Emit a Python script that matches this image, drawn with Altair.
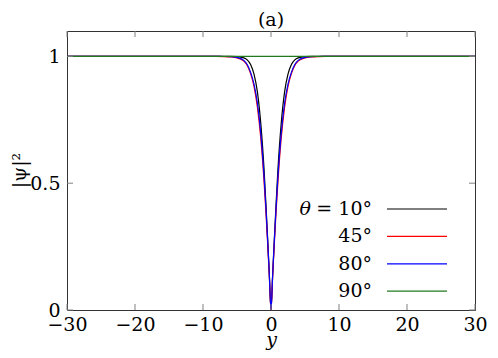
import altair as alt
import pandas as pd

# ---- data ----
y_pos = [-30, -10, -8, -7, -6, -5, -4, -3.5, -3, -2.5, -2, -1.5, -1, -0.75, -0.5, -0.25, 0,
         0.25, 0.5, 0.75, 1, 1.5, 2, 2.5, 3, 3.5, 4, 5, 6, 7, 8, 10, 30]
psi_10 = [1, 1, 1, 1, 0.9999, 0.999, 0.994, 0.986, 0.968, 0.93, 0.86, 0.735, 0.545, 0.42, 0.285, 0.145, 0,
          0.145, 0.285, 0.42, 0.545, 0.735, 0.86, 0.93, 0.968, 0.986, 0.994, 0.999, 0.9999, 1, 1, 1, 1]
psi_45 = [1, 1, 0.9998, 0.9993, 0.998, 0.994, 0.981, 0.964, 0.932, 0.882, 0.800, 0.676, 0.497, 0.388, 0.266, 0.135, 0,
          0.135, 0.266, 0.388, 0.497, 0.676, 0.800, 0.882, 0.932, 0.964, 0.981, 0.994, 0.998, 0.9993, 0.9998, 1, 1]
psi_80 = [1, 1, 0.9998, 0.9995, 0.999, 0.996, 0.984, 0.968, 0.937, 0.891, 0.816, 0.695, 0.516, 0.404, 0.278, 0.142, 0,
          0.142, 0.278, 0.404, 0.516, 0.695, 0.816, 0.891, 0.937, 0.968, 0.984, 0.996, 0.999, 0.9995, 0.9998, 1, 1]
psi_90 = [1, 1, 1, 1, 1, 1, 1, 1, 1, 1, 1, 1, 1, 1, 1, 1, 1,
          1, 1, 1, 1, 1, 1, 1, 1, 1, 1, 1, 1, 1, 1, 1, 1]
series_cols = ["p10", "p45", "p80", "p90"]
series_colors = ["#000000", "#ff0000", "#0000ff", "#1f7a1f"]
legend_labels = ["= 10°", "45°", "80°", "90°"]
x_ticks = [-30, -20, -10, 0, 10, 20, 30]
y_ticks = [0, 0.5, 1]

df = pd.DataFrame({"y": y_pos, "p10": psi_10, "p45": psi_45, "p80": psi_80, "p90": psi_90})
long_df = df.melt(id_vars="y", value_vars=series_cols, var_name="series", value_name="psi")

W, H = 408, 279
FONT = "DejaVu Serif"
FS = 19
xs = alt.Scale(domain=[-30, 30], nice=False, zero=False)
ys = alt.Scale(domain=[0, 1.1], nice=False)

x_axis = alt.Axis(values=x_ticks, format="d", ticks=False, domain=False, grid=False,
                  labelFont=FONT, labelFontSize=FS, labelColor="black", labelPadding=5,
                  labelFlush=False,
                  title="y", titleFont=FONT, titleFontSize=FS, titleFontStyle="italic",
                  titleFontWeight="normal", titleColor="black", titleX=W / 2, titleY=35,
                  titleAlign="center", titleBaseline="alphabetic")
y_axis = alt.Axis(values=y_ticks, format=".1~f", ticks=False, domain=False, grid=False,
                  labelFont=FONT, labelFontSize=FS, labelColor="black", labelPadding=7,
                  labelFlush=False,
                  title="|ψ|²", titleFont=FONT, titleFontSize=FS, titleFontWeight="normal",
                  titleColor="black", titleAngle=270, titleX=-48, titleY=139,
                  titleAlign="center", titleBaseline="middle")

# all curves in one layer, drawn in series order (black, red, blue, green)
curves = alt.Chart(long_df).mark_line(strokeWidth=1.2, interpolate="monotone", clip=True).encode(
    x=alt.X("y:Q", scale=xs, axis=x_axis),
    y=alt.Y("psi:Q", scale=ys, axis=y_axis),
    color=alt.Color("series:N", scale=alt.Scale(domain=series_cols, range=series_colors), legend=None),
    order=alt.Order("y:Q"),
)

layers = [curves]

tick_color = "#808080"
xt = pd.DataFrame({"t": x_ticks})
yt = pd.DataFrame({"t": y_ticks})
layers.append(alt.Chart(xt).mark_rule(color=tick_color, strokeWidth=1).encode(
    x=alt.X("t:Q", scale=xs, axis=x_axis), y=alt.value(H), y2=alt.value(H - 6)))
layers.append(alt.Chart(xt).mark_rule(color=tick_color, strokeWidth=1).encode(
    x=alt.X("t:Q", scale=xs, axis=x_axis), y=alt.value(0), y2=alt.value(6)))
layers.append(alt.Chart(yt).mark_rule(color=tick_color, strokeWidth=1).encode(
    y=alt.Y("t:Q", scale=ys, axis=y_axis), x=alt.value(0), x2=alt.value(6)))
layers.append(alt.Chart(yt).mark_rule(color=tick_color, strokeWidth=1).encode(
    y=alt.Y("t:Q", scale=ys, axis=y_axis), x=alt.value(W - 6), x2=alt.value(W)))

# legend drawn by hand
one = pd.DataFrame({"k": [0]})
for i, (lab, color) in enumerate(zip(legend_labels, series_colors)):
    yy = 178 + 27.4 * i
    layers.append(alt.Chart(one).mark_rule(color=color, strokeWidth=1.2).encode(
        x=alt.value(320), x2=alt.value(380), y=alt.value(yy)))
    layers.append(alt.Chart(one).mark_text(align="right", baseline="middle", font=FONT,
                                           fontSize=FS, color="black").encode(
        x=alt.value(305), y=alt.value(yy), text=alt.value(lab)))
layers.append(alt.Chart(one).mark_text(align="right", baseline="middle", font=FONT,
                                       fontSize=FS, fontStyle="italic", color="black").encode(
    x=alt.value(244), y=alt.value(178), text=alt.value("θ")))

chart = alt.layer(*layers).properties(
    width=W, height=H,
    title=alt.TitleParams("(a)", font=FONT, fontSize=FS, fontWeight="normal", color="black",
                          anchor="middle", offset=1),
    autosize=alt.AutoSizeParams(type="none"),
    padding={"left": 59, "top": 23, "right": 15, "bottom": 40},
    background="white",
).configure_view(stroke="#333333", strokeWidth=1)

chart.save("out.html", embed_options={"renderer": "svg", "actions": False})
